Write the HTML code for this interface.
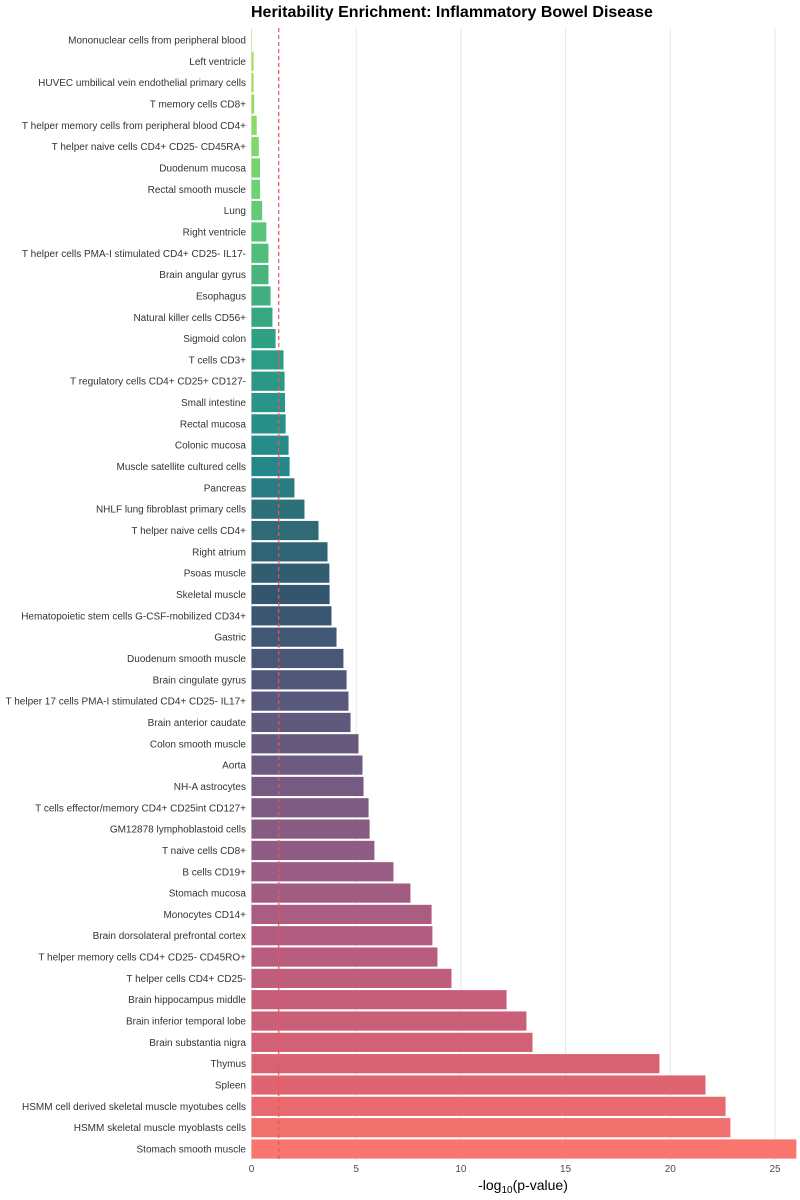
<!DOCTYPE html>
<html><head><meta charset="utf-8">
<style>
html,body{margin:0;padding:0;background:#fff;}
svg{display:block;font-family:"Liberation Sans",Arial,sans-serif;}
</style></head>
<body>
<svg id="chart" width="800" height="1200">
<text x="251" y="17" font-size="16" font-weight="bold" fill="#000">Heritability Enrichment: Inflammatory Bowel Disease</text>
<g id="grid"></g><g id="bars"></g><g id="labels"></g><g id="ticks"></g>
<text x="523" y="1190" font-size="14" text-anchor="middle" fill="#000">-log<tspan font-size="10" dy="3">10</tspan><tspan dy="-3">(p-value)</tspan></text>
</svg>
<script>
const categories = ["Mononuclear cells from peripheral blood","Left ventricle","HUVEC umbilical vein endothelial primary cells","T memory cells CD8+","T helper memory cells from peripheral blood CD4+","T helper naive cells CD4+ CD25- CD45RA+","Duodenum mucosa","Rectal smooth muscle","Lung","Right ventricle","T helper cells PMA-I stimulated CD4+ CD25- IL17-","Brain angular gyrus","Esophagus","Natural killer cells CD56+","Sigmoid colon","T cells CD3+","T regulatory cells CD4+ CD25+ CD127-","Small intestine","Rectal mucosa","Colonic mucosa","Muscle satellite cultured cells","Pancreas","NHLF lung fibroblast primary cells","T helper naive cells CD4+","Right atrium","Psoas muscle","Skeletal muscle","Hematopoietic stem cells G-CSF-mobilized CD34+","Gastric","Duodenum smooth muscle","Brain cingulate gyrus","T helper 17 cells PMA-I stimulated CD4+ CD25- IL17+","Brain anterior caudate","Colon smooth muscle","Aorta","NH-A astrocytes","T cells effector/memory CD4+ CD25int CD127+","GM12878 lymphoblastoid cells","T naive cells CD8+","B cells CD19+","Stomach mucosa","Monocytes CD14+","Brain dorsolateral prefrontal cortex","T helper memory cells CD4+ CD25- CD45RO+","T helper cells CD4+ CD25-","Brain hippocampus middle","Brain inferior temporal lobe","Brain substantia nigra","Thymus","Spleen","HSMM cell derived skeletal muscle myotubes cells","HSMM skeletal muscle myoblasts cells","Stomach smooth muscle"];
const values = [0.02,0.1,0.1,0.13,0.25,0.35,0.41,0.41,0.51,0.71,0.81,0.81,0.91,1.0,1.15,1.53,1.58,1.6,1.63,1.77,1.82,2.05,2.53,3.2,3.63,3.72,3.73,3.82,4.06,4.39,4.54,4.63,4.73,5.11,5.3,5.35,5.59,5.64,5.87,6.78,7.59,8.6,8.64,8.88,9.55,12.18,13.13,13.42,19.48,21.68,22.64,22.87,26.02];
const tickValues = [0,5,10,15,20,25];
const threshold = 1.301;

const NS="http://www.w3.org/2000/svg";
const x0=251.5, pxPer=20.94;
const xs=v=>x0+v*pxPer;
const yTop=40, step=(1149-40)/52;
const ys=i=>yTop+i*step;
const stops=[[0,"#b4e25a"],[1,"#a8e05f"],[7,"#6cd273"],[14,"#2ea083"],[20,"#24878a"],[22,"#2d7077"],[26,"#33566e"],[30,"#505779"],[34,"#6c5a80"],[38,"#905c84"],[42,"#b25c80"],[46,"#cc5f78"],[49,"#e0646f"],[52,"#f8766d"]];
function hex(h){return [1,3,5].map(k=>parseInt(h.substr(k,2),16));}
function col(i){for(let k=0;k<stops.length-1;k++){const a=stops[k],b=stops[k+1];if(i<=b[0]){const t=(i-a[0])/(b[0]-a[0]);const ca=hex(a[1]),cb=hex(b[1]);return "rgb("+ca.map((c,j)=>Math.round(c+(cb[j]-c)*t)).join(",")+")";}}return stops[stops.length-1][1];}
function mk(t,attrs,parent){const e=document.createElementNS(NS,t);for(const k in attrs)e.setAttribute(k,attrs[k]);parent.appendChild(e);return e;}
const grid=document.getElementById('grid'),bars=document.getElementById('bars'),labels=document.getElementById('labels'),ticks=document.getElementById('ticks');
const plotTop=28, plotBot=1161;
tickValues.forEach(v=>{
  const l=mk('line',{x1:xs(v),x2:xs(v),y1:plotTop,y2:plotBot,stroke:'#e6e6e6','stroke-width':1},grid);
  
  
  const t=mk('text',{x:xs(v),y:1172,'font-size':10,'text-anchor':'middle',fill:'#4d4d4d'},ticks);
  t.textContent=v;
  
  
});
categories.forEach((c,i)=>{
  const y=ys(i);
  const r=mk('rect',{x:xs(0),y:y-9.6,width:Math.max(0,xs(values[i])-xs(0)),height:19.2,fill:col(i)},bars);
  
  
  const t=mk('text',{x:246,y:y+3.5,'font-size':10,'text-anchor':'end',fill:'#333'},labels);
  t.textContent=c;
  
  
});
const th=mk('line',{x1:xs(threshold),x2:xs(threshold),y1:plotTop,y2:plotBot,stroke:'#f0525a','stroke-width':1.2,'stroke-dasharray':'4,3'},ticks);


</script>
</body></html>
